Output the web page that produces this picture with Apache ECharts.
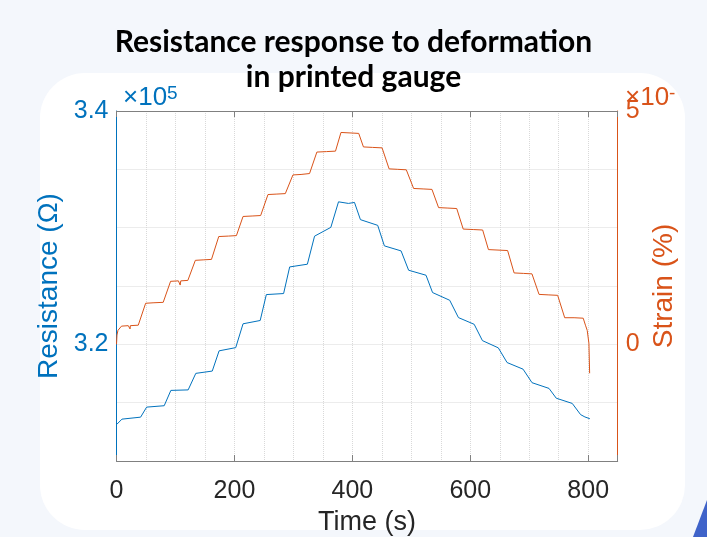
<!DOCTYPE html>
<html><head><meta charset="utf-8">
<script src="https://cdn.jsdelivr.net/npm/echarts@6/dist/echarts.min.js"></script>
<style>html,body{margin:0;padding:0;background:#f4f7fc;}#c{width:707px;height:537px;}</style>
</head><body><div id="c"></div>
<script>
// Resistance (Ohm) vs time (s)
const timeRes = [0.3,3.4,9.3,40.9,51.1,80.9,92.2,121.5,134.5,162.4,174,202.2,214.6,243.7,254.1,283.4,293.7,323.7,335.9,363.5,376.5,393.4,403.6,413.7,443,454.3,482.6,495.4,524.9,536,565.1,579.9,606.6,620.6,647.5,662.4,689.5,704.7,733.5,745.8,772.9,787.1,794.4,802.8];
const resVals = [313133,313219,313588,313759,314618,314738,316051,316094,317511,317708,319442,319717,321760,322043,324266,324352,326635,326867,329271,330026,332215,332078,332164,330687,330198,328438,328009,326352,325923,324438,323777,322292,321717,320318,319700,318438,317871,316712,316223,315382,314935,313974,313776,313622];
// Strain (axis units) vs time (s)
const timeStrain = [0,0.8,2.5,8.5,20,23,23.5,36.9,49.4,62,79.2,91.7,105,107,108,109,121,133.7,147,161.1,173.4,190,203.4,214.6,230,244.5,256.9,272,286.3,299.2,313,327.4,339.8,356,371.4,380.7,396,410.8,418.8,434,450.4,462.3,477,491.5,503.9,520,535,546.2,562,577,588,605,621,630.8,647,663.3,674.3,690,704.6,716.6,732,748.2,760.1,776,791.5,795.3,798.3,801.2,802.4];
const strainVals = [0,0.2,0.3,0.39,0.40,0.33,0.40,0.41,0.88,0.89,0.90,1.35,1.36,1.36,1.27,1.36,1.37,1.80,1.81,1.82,2.31,2.32,2.33,2.74,2.75,2.76,3.21,3.22,3.23,3.63,3.64,3.66,4.12,4.13,4.14,4.54,4.53,4.52,4.23,4.22,4.21,3.76,3.75,3.74,3.34,3.33,3.32,2.93,2.92,2.91,2.47,2.46,2.45,2.03,2.02,2.01,1.53,1.52,1.51,1.07,1.06,1.05,0.57,0.57,0.56,0.41,0.30,0.02,-0.62];
const xTickLabels = [0,200,400,600,800];
const resTickLabels = {320000:'3.2',340000:'3.4'};
const strainTickLabels = {0:'0',5:'5'};

const blue = '#0072BD', orange = '#D95319', axisGray = '#808080', txt = '#262626';
const F = 'Liberation Sans, Arial, sans-serif';
const chart = echarts.init(document.getElementById('c'));
const grid = {left:116.5, right:89.3, top:111, bottom:76, show:true, backgroundColor:'#fff', borderWidth:0, outerBoundsMode:'none', containLabel:false};
chart.setOption({
  backgroundColor:'#f4f7fc',
  animation:false,
  graphic:[
    {type:'rect', z:-100, shape:{x:40,y:73,width:645,height:457,r:45}, style:{fill:'#ffffff'}},
    {type:'polygon', z:-100, shape:{points:[[707,500],[707,537],[693,537]]}, style:{fill:'#3f63c9'}}
  ],
  title:[
    {text:'Resistance response to deformation\nin printed gauge', left:'center', top:20,
     textStyle:{fontFamily:'Lato', fontWeight:'bold', fontSize:30, lineHeight:35, color:'#000'}},
    {text:'{a|×10}{b|5}', left:118, top:79,
     textStyle:{fontWeight:'normal', rich:{a:{fontFamily:F, fontWeight:'normal', fontSize:26, color:blue, lineHeight:28}, b:{fontFamily:F, fontWeight:'normal', fontSize:19, color:blue, verticalAlign:'top', lineHeight:18}}}},
    {text:'{a|×10}{b|-}', left:620, top:79,
     textStyle:{fontWeight:'normal', rich:{a:{fontFamily:F, fontWeight:'normal', fontSize:26, color:orange, lineHeight:28}, b:{fontFamily:F, fontWeight:'normal', fontSize:19, color:orange, verticalAlign:'top', lineHeight:18}}}}
  ],
  grid: grid,
  xAxis:[
    {type:'value', min:0, max:850, interval:50, position:'bottom', gridIndex:0,
     axisLine:{onZero:false, lineStyle:{color:axisGray, width:1}}, axisTick:{show:false},
     axisLabel:{formatter:v=>xTickLabels.includes(v)?String(v):'', fontFamily:F, fontSize:25, color:txt, margin:18, showMaxLabel:true},
     splitLine:{show:true, lineStyle:{type:'dotted', color:'#d9d9d9', width:1}},
     name:'Time (s)', nameLocation:'middle', nameGap:46, nameTextStyle:{fontFamily:F, fontSize:27, color:txt}},
    {type:'value', min:0, max:850, interval:200, position:'bottom', gridIndex:0,
     axisLine:{show:false, onZero:false}, axisTick:{show:true, inside:true, length:6, lineStyle:{color:axisGray}},
     axisLabel:{show:false}, splitLine:{show:false}},
    {type:'value', min:0, max:850, interval:200, position:'top', gridIndex:0,
     axisLine:{show:true, onZero:false, lineStyle:{color:axisGray}}, axisTick:{show:true, inside:true, length:6, lineStyle:{color:axisGray}},
     axisLabel:{show:false}, splitLine:{show:false}}
  ],
  yAxis:[
    {type:'value', min:310000, max:340000, interval:5000, position:'left',
     axisLine:{show:true, onZero:false, lineStyle:{color:blue}}, axisTick:{show:false},
     axisLabel:{formatter:v=>resTickLabels[v]||'', fontFamily:F, fontSize:25, color:blue, margin:8},
     splitLine:{show:true, lineStyle:{type:'dotted', color:'#d9d9d9', width:1}},
     name:'Resistance (Ω)', nameLocation:'middle', nameRotate:90, nameGap:50,
     nameTextStyle:{fontFamily:F, fontSize:28, color:blue}},
    {type:'value', min:-2.5, max:5, interval:1.25, position:'right',
     axisLine:{show:true, onZero:false, lineStyle:{color:orange}}, axisTick:{show:false},
     axisLabel:{formatter:v=>strainTickLabels[v]||'', fontFamily:F, fontSize:25, color:orange, margin:8},
     splitLine:{show:false},
     name:'Strain (%)', nameLocation:'middle', nameRotate:90, nameGap:32,
     nameTextStyle:{fontFamily:F, fontSize:28, color:orange}}
  ],
  series:[
    {type:'line', xAxisIndex:0, yAxisIndex:0, showSymbol:false, symbol:'none',
     data: timeRes.map((t,i)=>[t,resVals[i]]), lineStyle:{color:blue, width:1}, itemStyle:{color:blue}},
    {type:'line', xAxisIndex:0, yAxisIndex:1, showSymbol:false, symbol:'none',
     data: timeStrain.map((t,i)=>[t,strainVals[i]]), lineStyle:{color:orange, width:1}, itemStyle:{color:orange}}
  ]
});
</script></body></html>
